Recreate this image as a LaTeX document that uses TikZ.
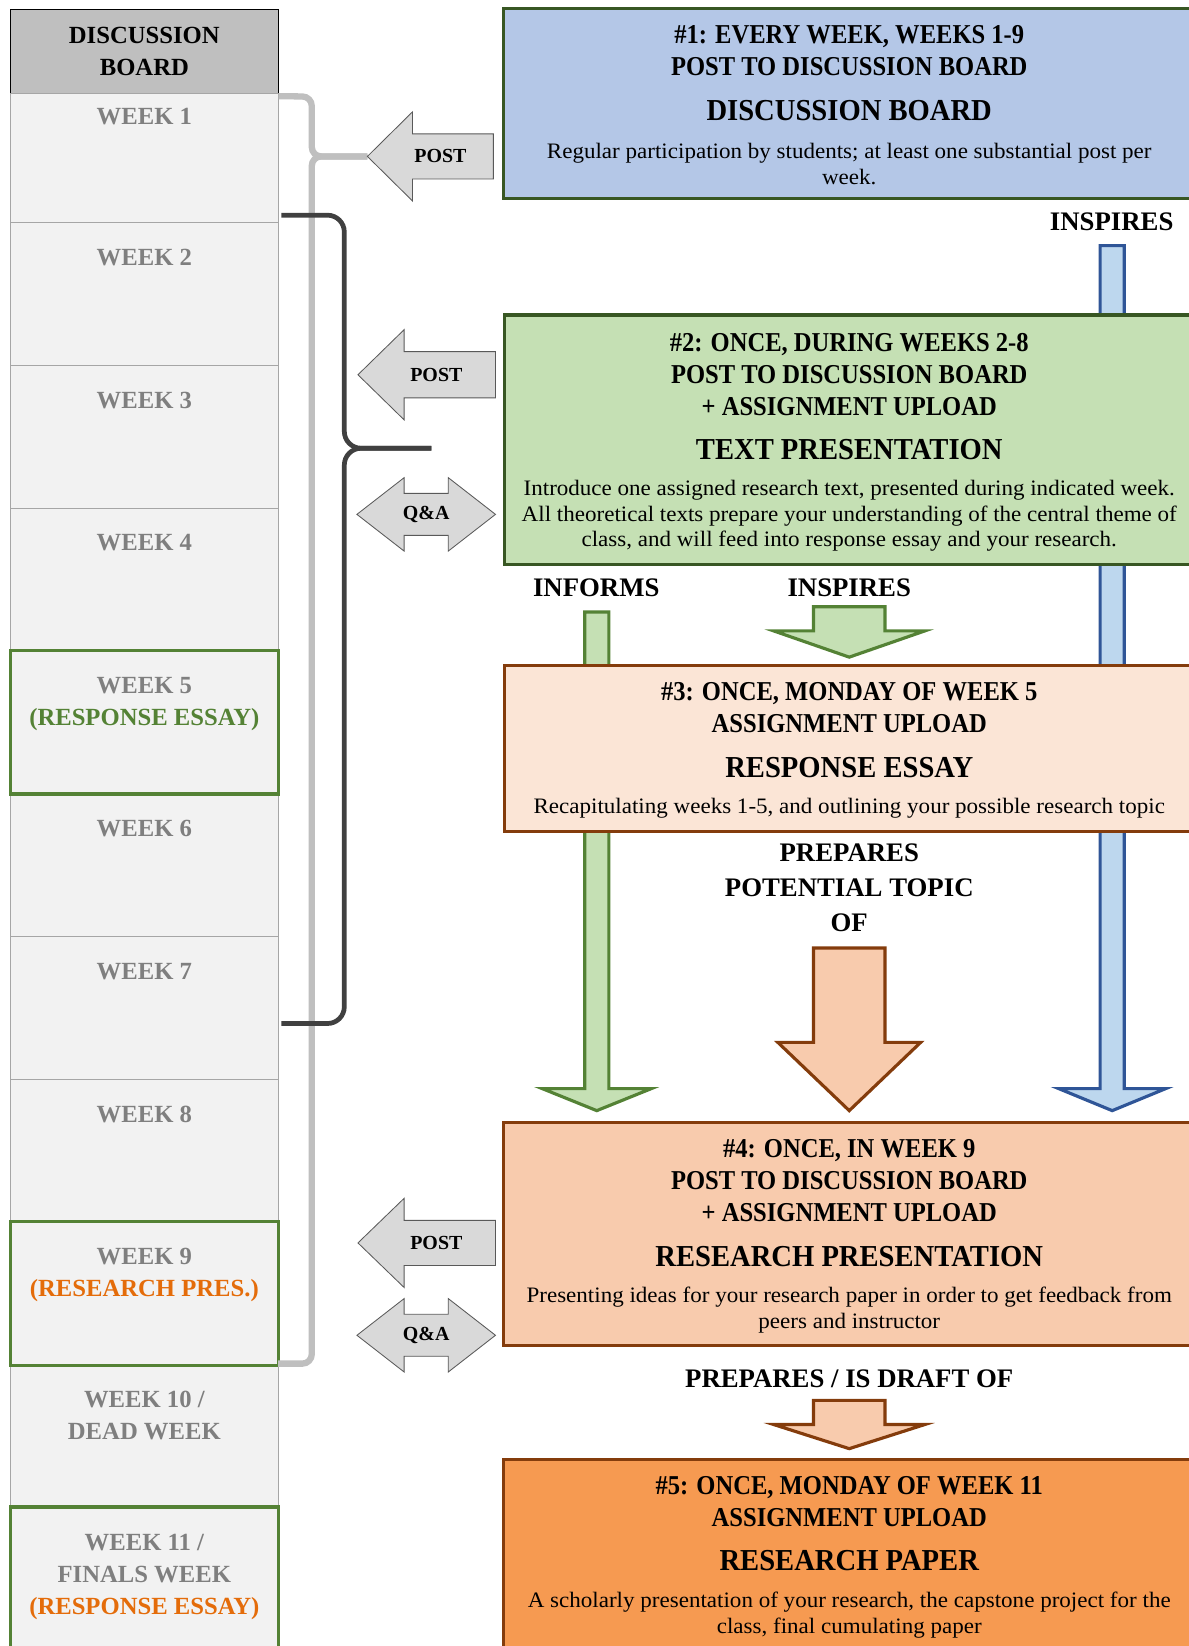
\documentclass[tikz,border=0pt]{standalone}
\usepackage{fontspec}
\setmainfont{Liberation Serif}
\newfontfamily\condfamily[FakeStretch=0.9]{Liberation Serif}
\newfontfamily\narrowfamily[FakeStretch=0.94]{Liberation Serif}
\newfontfamily\widefamily[FakeStretch=1.045]{Liberation Serif}
\usetikzlibrary{positioning}
\usetikzlibrary{calc}
\definecolor{cellfill}{HTML}{F2F2F2}
\definecolor{cellline}{HTML}{A6A6A6}
\definecolor{headfill}{HTML}{BFBFBF}
\definecolor{weekgray}{HTML}{7F7F7F}
\definecolor{essaygreen}{HTML}{548235}
\definecolor{presorange}{HTML}{E46C0A}
\definecolor{darkgreen}{HTML}{385723}
\definecolor{brownline}{HTML}{843C0C}
\definecolor{bluefill}{HTML}{B4C7E7}
\definecolor{greenfill}{HTML}{C5E0B4}
\definecolor{peachfill}{HTML}{FBE5D6}
\definecolor{salmonfill}{HTML}{F8CBAD}
\definecolor{orangefill}{HTML}{F69A51}
\definecolor{arrowblue}{HTML}{BDD7EE}
\definecolor{blueline}{HTML}{2F5597}
\definecolor{greyfill}{HTML}{D9D9D9}
\definecolor{greyline}{HTML}{595959}
\definecolor{bracelight}{HTML}{BFBFBF}
\definecolor{bracedark}{HTML}{404040}
\newcommand{\subfont}{\condfamily\bfseries\fontsize{26}{30.5}\selectfont}
\newcommand{\titlefont}{\narrowfamily\bfseries\fontsize{29}{34}\selectfont}
\newcommand{\bodyfont}{\widefamily\fontsize{21}{24.5}\selectfont}
\newcommand{\weekfont}{\bfseries\fontsize{23.5}{30.5}\selectfont}
\newcommand{\flowfont}{\bfseries\fontsize{25.5}{33.5}\selectfont}
\newcommand{\postfont}{\bfseries\fontsize{19}{22}\selectfont}
\tikzstyle{box} = [rectangle, line width=3pt, minimum width=658pt, inner sep=0pt]
\tikzstyle{weekcell} = [rectangle, draw=cellline, fill=cellfill, line width=0.8pt,
minimum width=255pt, minimum height=136pt, inner sep=0pt]
\tikzstyle{keyframe} = [draw=essaygreen, line width=3pt]
\tikzstyle{weektext} = [font=\weekfont, text=weekgray, align=center, inner sep=0pt]
\tikzstyle{headtext} = [font=\subfont, align=center, inner sep=0pt]
\tikzstyle{titletext} = [font=\titlefont, inner sep=0pt]
\tikzstyle{bodytext} = [font=\bodyfont, align=center, inner sep=0pt]
\tikzstyle{flowlabel} = [font=\flowfont, align=center, inner sep=0pt]
\tikzstyle{postlabel} = [font=\postfont, inner sep=0pt]
\tikzstyle{greyarrow} = [draw=greyline, fill=greyfill, line width=0.8pt]
\tikzstyle{bluearrow} = [draw=blueline, fill=arrowblue, line width=3pt]
\tikzstyle{greenarrow} = [draw=essaygreen, fill=greenfill, line width=3pt]
\tikzstyle{orangearrow} = [draw=brownline, fill=salmonfill, line width=3pt]
\tikzstyle{lightbrace} = [draw=bracelight, line width=6pt, rounded corners=9pt]
\tikzstyle{darkbrace} = [draw=bracedark, line width=4.5pt, rounded corners=16pt]
\pgfdeclarelayer{behind}
\pgfsetlayers{behind,main}
% block arrow pointing down: [style]{top}{tip}{shaft half}{head half}{head length}
\newcommand{\blockdown}[6][]{%
  \path[#1] let \p1=(#2), \p2=(#3) in
    (\x1-#4pt,\y1) -- (\x1+#4pt,\y1) -- (\x1+#4pt,\y2+#6pt)
    -- (\x1+#5pt,\y2+#6pt) -- (\x2,\y2) -- (\x1-#5pt,\y2+#6pt)
    -- (\x1-#4pt,\y2+#6pt) -- cycle;}
% block arrow pointing left: [style]{tail}{tip}{shaft half}{head half}{head length}
\newcommand{\blockleft}[6][]{%
  \path[#1] let \p1=(#2), \p2=(#3) in
    (\x2,\y2) -- (\x2+#6pt,\y2+#5pt) -- (\x2+#6pt,\y2+#4pt) -- (\x1,\y2+#4pt)
    -- (\x1,\y2-#4pt) -- (\x2+#6pt,\y2-#4pt) -- (\x2+#6pt,\y2-#5pt) -- cycle;}
% block arrow with two heads: [style]{left tip}{right tip}{shaft half}{head half}{head length}
\newcommand{\blockboth}[6][]{%
  \path[#1] let \p1=(#2), \p2=(#3) in
    (\x1,\y1) -- (\x1+#6pt,\y1+#5pt) -- (\x1+#6pt,\y1+#4pt) -- (\x2-#6pt,\y1+#4pt)
    -- (\x2-#6pt,\y1+#5pt) -- (\x2,\y1) -- (\x2-#6pt,\y1-#5pt) -- (\x2-#6pt,\y1-#4pt)
    -- (\x1+#6pt,\y1-#4pt) -- (\x1+#6pt,\y1-#5pt) -- cycle;}

\begin{document}
\begin{tikzpicture}[x=1pt, y=-1pt]
  \useasboundingbox (0,0) rectangle (1132,1568);

  % week column
  \node[rectangle, draw=black, fill=headfill, line width=1pt, minimum width=255pt,
    minimum height=80pt, inner sep=0pt, align=center, font=\weekfont] (board) at (137.5,49)
    {DISCUSSION\\BOARD};
  \node[weekcell, minimum height=123pt] (w1) at (137.5,150.5) {};
  \node[weektext, below=14.5pt of w1.north] {WEEK 1};
  \foreach \k/\txt in {2/{WEEK 2}, 3/{WEEK 3}, 4/{WEEK 4},
      5/{WEEK 5\\\textcolor{essaygreen}{(RESPONSE ESSAY)}},
      6/{WEEK 6}, 7/{WEEK 7}, 8/{WEEK 8},
      9/{WEEK 9\\\textcolor{presorange}{(RESEARCH PRES.)}},
      10/{WEEK 10 /\\DEAD WEEK},
      11/{WEEK 11 /\\FINALS WEEK\\\textcolor{presorange}{(RESPONSE ESSAY)}}} {
    \node[weekcell] (w\k) at (137.5,{212+136*(\k-2)+68}) {};
    \node[weektext, below=25.5pt of w\k.north] {\txt};
  }
  \foreach \k in {5,9,11}
    \draw[keyframe] (w\k.north west) rectangle (w\k.south east);

  % braces
  \coordinate (post1tip) at (350,149);
  \coordinate (bracetip) at (411,427);
  \draw[lightbrace] (w1.north east) ++(0,3) -- (297,92) -- (297,149) -- (post1tip);
  \draw[lightbrace] (post1tip) -- (297,149) -- (297,1299) -- (265,1299);
  \draw[darkbrace] (268,205) -- (328,205) -- (328,427) -- (bracetip);
  \draw[darkbrace] (bracetip) -- (328,427) -- (328,975) -- (268,975);

  % boxes
  \node[box, draw=darkgreen, fill=bluefill, minimum height=181pt] (box1) at (809,98.5) {};
  \node[box, draw=darkgreen, fill=greenfill, minimum height=238pt] (box2) at (809.5,419) {};
  \node[box, draw=brownline, fill=peachfill, minimum height=158pt] (box3) at (809.5,713) {};
  \node[box, draw=brownline, fill=salmonfill, minimum height=213pt] (box4) at (809,1175.5) {};
  \node[box, draw=brownline, fill=orangefill, minimum height=200pt] (box5) at (809,1490) {};

  \node[headtext] (head1) at (809,48) {\#1: EVERY WEEK, WEEKS 1-9\\POST TO DISCUSSION BOARD};
  \node[titletext] (title1) at (809,105) {DISCUSSION BOARD};
  \node[bodytext] (body1) at (809,156)
    {Regular participation by students; at least one substantial post per\\week.};

  \node[headtext] (head2) at (809,356.5)
    {\#2: ONCE, DURING WEEKS 2-8\\POST TO DISCUSSION BOARD\\+ ASSIGNMENT UPLOAD};
  \node[titletext] (title2) at (809,428) {TEXT PRESENTATION};
  \node[bodytext] (body2) at (809,491.5)
    {Introduce one assigned research text, presented during indicated week.\\
     All theoretical texts prepare your understanding of the central theme of\\
     class, and will feed into response essay and your research.};

  \node[headtext] (head3) at (809,674) {\#3: ONCE, MONDAY OF WEEK 5\\ASSIGNMENT UPLOAD};
  \node[titletext] (title3) at (809,731) {RESPONSE ESSAY};
  \node[bodytext] (body3) at (809,770)
    {Recapitulating weeks 1-5, and outlining your possible research topic};

  \node[headtext] (head4) at (809,1124.5)
    {\#4: ONCE, IN WEEK 9\\POST TO DISCUSSION BOARD\\+ ASSIGNMENT UPLOAD};
  \node[titletext] (title4) at (809,1197) {RESEARCH PRESENTATION};
  \node[bodytext] (body4) at (809,1248)
    {Presenting ideas for your research paper in order to get feedback from\\
     peers and instructor};

  \node[headtext] (head5) at (809,1430) {\#5: ONCE, MONDAY OF WEEK 11\\ASSIGNMENT UPLOAD};
  \node[titletext] (title5) at (809,1487) {RESEARCH PAPER};
  \node[bodytext] (body5) at (809,1538.5)
    {A scholarly presentation of your research, the capstone project for the\\
     class, final cumulating paper};

  % flow labels
  \node[flowlabel] (inspA) at (1059,211) {INSPIRES};
  \node[flowlabel] (informs) at (568,560) {INFORMS};
  \node[flowlabel] (inspB) at (809,560) {INSPIRES};
  \node[flowlabel] (prepares) at (809,845.5) {PREPARES\\POTENTIAL TOPIC\\OF};
  \node[flowlabel] (draft) at (809,1313) {PREPARES / IS DRAFT OF};

  % vertical block arrows, behind the boxes
  \coordinate (blueA) at (1059.5,234);   \coordinate (blueB) at (1059.5,1058);
  \coordinate (greenA) at (568.5,583);   \coordinate (greenB) at (568.5,1058);
  \coordinate (inspTop) at (809,578);    \coordinate (inspTip) at (809,626);
  \coordinate (prepTop) at (809,903);    \coordinate (prepTip) at (809,1058);
  \coordinate (draftTop) at (809,1334);  \coordinate (draftTip) at (809,1380);
  \begin{pgfonlayer}{behind}
    \blockdown[bluearrow]{blueA}{blueB}{11.5}{51}{21}
    \blockdown[greenarrow]{greenA}{greenB}{11.5}{52}{21}
  \end{pgfonlayer}
  \blockdown[greenarrow]{inspTop}{inspTip}{34}{72}{25}
  \blockdown[orangearrow]{prepTop}{prepTip}{34}{68}{65}
  \blockdown[orangearrow]{draftTop}{draftTip}{34}{72}{23}

  % post and q&a arrows
  \coordinate (post1tail) at (470,149);
  \coordinate (post2tail) at (472,357);  \coordinate (post2tip) at (341,357);
  \coordinate (post3tail) at (472,1184); \coordinate (post3tip) at (341,1184);
  \coordinate (qa1l) at (340,490);       \coordinate (qa1r) at (472,490);
  \coordinate (qa2l) at (340,1272);      \coordinate (qa2r) at (472,1272);
  \blockleft[greyarrow]{post1tail}{post1tip}{21.5}{42.5}{43}
  \blockleft[greyarrow]{post2tail}{post2tip}{22}{43}{44}
  \blockleft[greyarrow]{post3tail}{post3tip}{21.5}{42.5}{44}
  \blockboth[greyarrow]{qa1l}{qa1r}{20}{35}{45}
  \blockboth[greyarrow]{qa2l}{qa2r}{20}{35}{45}
  \node[postlabel] (post1) at ($(post1tip)!0.58!(post1tail)$) {POST};
  \node[postlabel] (post2) at ($(post2tip)!0.57!(post2tail)$) {POST};
  \node[postlabel] (post3) at ($(post3tip)!0.57!(post3tail)$) {POST};
  \node[postlabel] (qa1) at ($(qa1l)!0.5!(qa1r)$) {Q\&A};
  \node[postlabel] (qa2) at ($(qa2l)!0.5!(qa2r)$) {Q\&A};
\end{tikzpicture}
\end{document}
